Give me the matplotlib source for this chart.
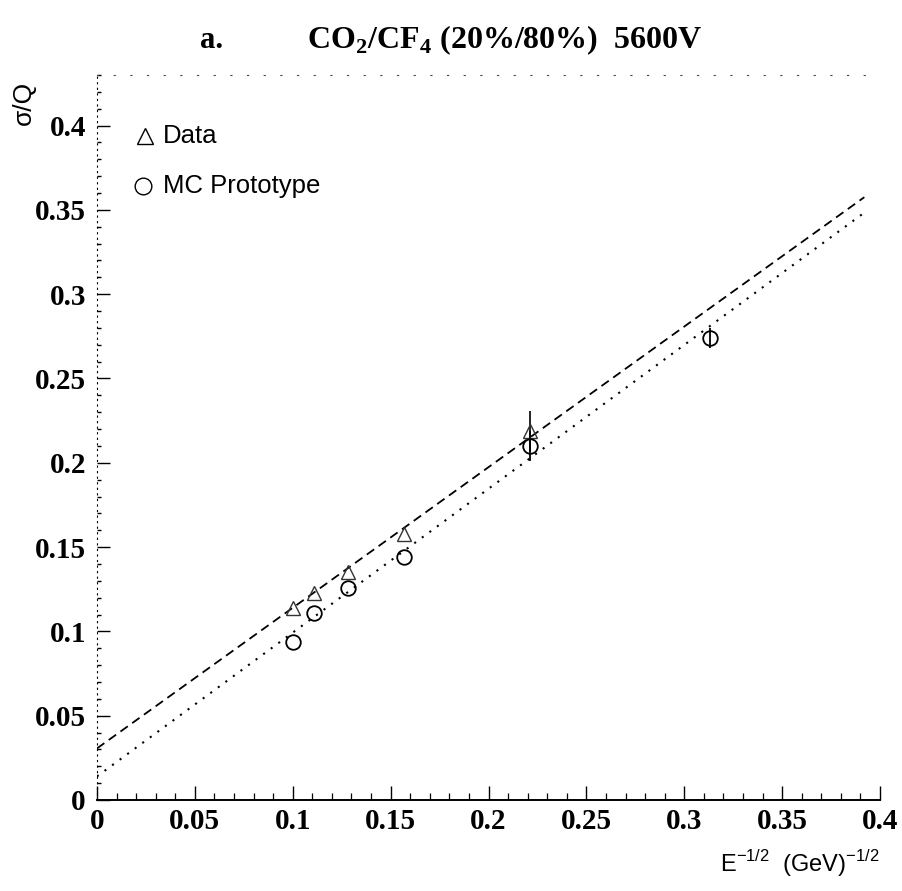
import matplotlib
matplotlib.use("Agg")
import matplotlib.pyplot as plt
import numpy as np
from matplotlib.ticker import MultipleLocator, FuncFormatter

plt.rcParams['mathtext.fontset'] = 'custom'
plt.rcParams['mathtext.rm'] = 'Liberation Sans'
plt.rcParams['mathtext.bf'] = 'Liberation Serif:bold'

# ---- data ----
data_x = [0.100, 0.111, 0.128, 0.157, 0.221]
data_y = [0.114, 0.1225, 0.135, 0.158, 0.219]
data_err = [0.0, 0.0, 0.0, 0.0, 0.012]

mc_x = [0.100, 0.111, 0.128, 0.157, 0.221, 0.313]
mc_y = [0.0936, 0.111, 0.126, 0.144, 0.210, 0.274]
mc_err = [0.0, 0.0, 0.0, 0.0, 0.009, 0.006]

# linear fits (intercept, slope)
data_fit = (0.0306, 0.834)
mc_fit = (0.014, 0.853)
fit_range = (0.0, 0.392)

x_ticks = [0, 0.05, 0.1, 0.15, 0.2, 0.25, 0.3, 0.35, 0.4]
y_ticks = [0, 0.05, 0.1, 0.15, 0.2, 0.25, 0.3, 0.35, 0.4]

fig = plt.figure(figsize=(9.02, 8.91), dpi=100)
ax = fig.add_axes([97/902, 91/891, (880-97)/902, (800-75)/891])
ax.set_xlim(0, 0.4)
ax.set_ylim(0, 0.43)

xf = np.linspace(fit_range[0], fit_range[1], 50)
ax.plot(xf, data_fit[0] + data_fit[1]*xf, color='black', lw=1.3,
        linestyle=(0, (5, 3)))
ax.plot(xf, mc_fit[0] + mc_fit[1]*xf, color='black', lw=1.5,
        linestyle=(0, (1, 3.5)))

ax.errorbar(data_x, data_y, yerr=data_err, fmt='^', mfc='none', mec='#333333',
            ms=10, mew=1.0, ecolor='black', elinewidth=1.2, capsize=0)
ax.errorbar(mc_x, mc_y, yerr=mc_err, fmt='o', mfc='none', mec='black',
            ms=10.5, mew=1.3, ecolor='black', elinewidth=1.3, capsize=0)

# ticks
ax.set_xticks(x_ticks)
ax.set_yticks(y_ticks)
fmt = FuncFormatter(lambda v, p: ('%g' % round(v, 3)))
ax.xaxis.set_major_formatter(fmt)
ax.yaxis.set_major_formatter(fmt)
ax.xaxis.set_minor_locator(MultipleLocator(0.01))
ax.yaxis.set_minor_locator(MultipleLocator(0.01))
ax.tick_params(axis='both', which='both', direction='in', top=False, right=False)
ax.tick_params(axis='x', which='major', length=10, width=1.0, pad=6)
ax.tick_params(axis='x', which='minor', length=5, width=0.9)
ax.tick_params(axis='y', which='major', length=9, width=1.0, pad=8)
ax.tick_params(axis='y', which='minor', length=3, width=1.0)
for lab in ax.get_xticklabels() + ax.get_yticklabels():
    lab.set_fontfamily('Liberation Serif')
    lab.set_fontweight('bold')
    lab.set_fontsize(21)

ax.spines['right'].set_visible(False)
ax.spines['top'].set_linestyle((0, (1, 14)))
ax.spines['top'].set_linewidth(0.8)
ax.spines['top'].set_color('#444444')
ax.spines['left'].set_linestyle((0, (1, 4)))
ax.spines['left'].set_linewidth(0.8)
ax.spines['bottom'].set_linewidth(1.4)

# legend (hand-drawn as in the original)
ax.plot([0.0245], [0.394], marker='^', ms=12, mfc='none', mec='black', mew=1.0,
        clip_on=False)
ax.text(0.0335, 0.394, 'Data', fontsize=18.5, family='Liberation Sans',
        va='center', ha='left')
ax.plot([0.0235], [0.364], marker='o', ms=12, mfc='none', mec='black', mew=1.0,
        clip_on=False)
ax.text(0.0335, 0.364, 'MC Prototype', fontsize=18.5, family='Liberation Sans',
        va='center', ha='left')

# titles and labels
fig.text(212/902, 1-40/891, 'a.', fontsize=22, family='Liberation Serif',
         fontweight='bold', ha='center', va='center')
fig.text(505/902, 1-40/891, r'CO$_\mathbf{2}$/CF$_\mathbf{4}$ (20%/80%)  5600V',
         fontsize=23, family='Liberation Serif', fontweight='bold',
         ha='center', va='center')
fig.text(880/902, 1-864/891, r'E$^{-1/2}$  (GeV)$^{-1/2}$', fontsize=17,
         family='Liberation Sans', ha='right', va='center')
fig.text(24/902, 1-103/891, r'σ/Q', fontsize=19, family='Liberation Sans',
         rotation=90, ha='center', va='center')

fig.savefig('out.png', dpi=100)
